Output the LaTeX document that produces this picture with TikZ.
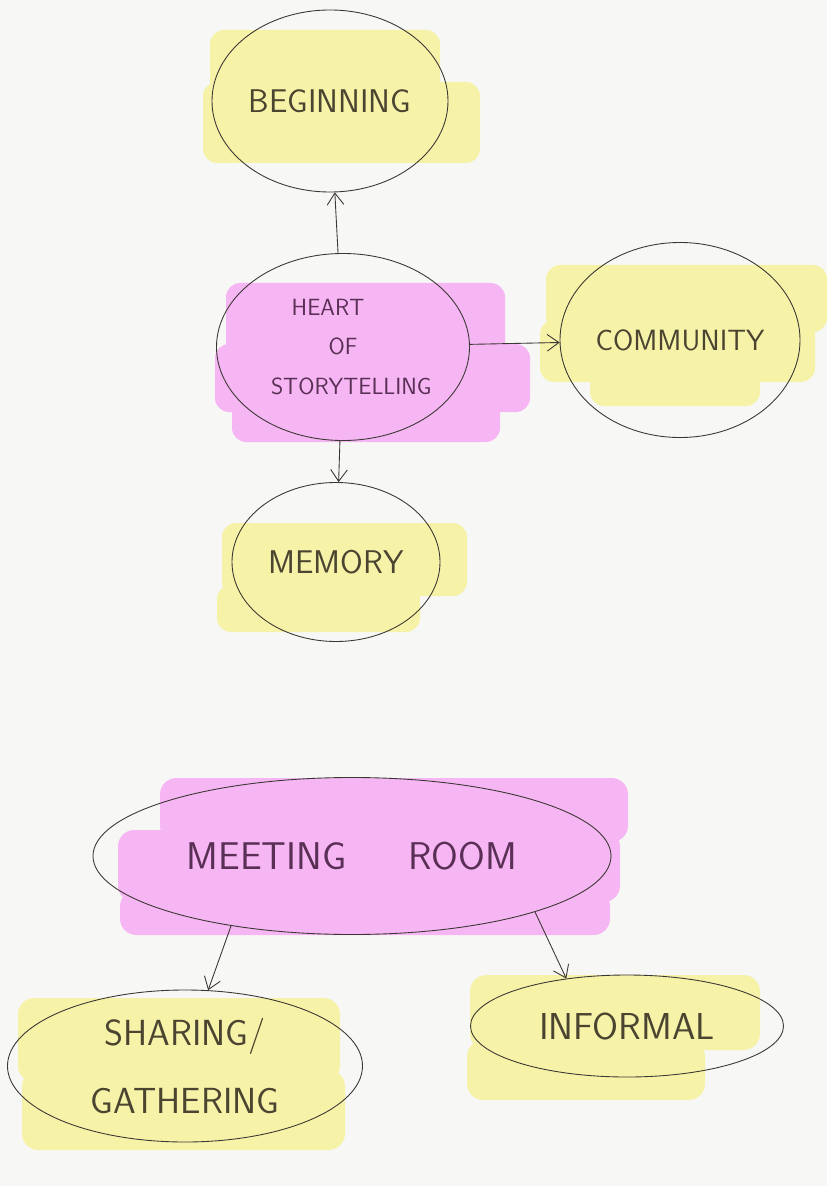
\documentclass[tikz,border=0pt]{standalone}
\usepackage{tikz}
\usetikzlibrary{arrows.meta,shapes.geometric}
\definecolor{paper}{HTML}{F7F7F5}
\definecolor{hlyellow}{HTML}{F6F3A9}
\definecolor{hlpink}{HTML}{F6B6F3}
\definecolor{ink}{HTML}{3B3732}
\definecolor{inkolive}{HTML}{4A4430}
\definecolor{inkplum}{HTML}{5A2F55}
\tikzset{every picture/.style={line width=0.75pt}}
\tikzset{
  bubble/.style={ellipse, draw=ink, inner sep=0pt, align=center},
  word/.style={font=\sffamily\fontsize{26}{30}\selectfont, text=inkolive},
}

\begin{document}
\begin{tikzpicture}[x=0.03cm, y=-0.03cm, >={Straight Barb[length=3.5mm,width=5mm]}]
    % 背景
    \fill[paper] (0,0) rectangle (827,1186);

    % 荧光笔涂色
    \fill[hlyellow, rounded corners=12pt] (210,30) rectangle (440,96);
    \fill[hlyellow, rounded corners=12pt] (203,82) rectangle (480,163);
    \fill[hlpink, rounded corners=12pt] (226,283) rectangle (505,356);
    \fill[hlpink, rounded corners=12pt] (215,344) rectangle (530,412);
    \fill[hlpink, rounded corners=12pt] (232,398) rectangle (500,442);
    \fill[hlyellow, rounded corners=12pt] (546,265) rectangle (827,332);
    \fill[hlyellow, rounded corners=12pt] (540,320) rectangle (815,382);
    \fill[hlyellow, rounded corners=12pt] (590,370) rectangle (760,406);
    \fill[hlyellow, rounded corners=12pt] (222,523) rectangle (467,596);
    \fill[hlyellow, rounded corners=12pt] (217,585) rectangle (420,632);
    \fill[hlpink, rounded corners=14pt] (160,778) rectangle (628,842);
    \fill[hlpink, rounded corners=14pt] (118,830) rectangle (620,902);
    \fill[hlpink, rounded corners=14pt] (120,890) rectangle (610,935);
    \fill[hlyellow, rounded corners=14pt] (18,998) rectangle (340,1082);
    \fill[hlyellow, rounded corners=14pt] (22,1070) rectangle (345,1150);
    \fill[hlyellow, rounded corners=14pt] (470,975) rectangle (760,1050);
    \fill[hlyellow, rounded corners=14pt] (467,1040) rectangle (705,1100);

    % 上方的图
    \node[bubble, minimum width=7.08cm, minimum height=5.46cm, word,
          font=\sffamily\fontsize{28}{30}\selectfont] (beginning) at (330,101) {BEGINNING};
    \node[bubble, minimum width=7.59cm, minimum height=5.61cm, word, text=inkplum,
          font=\sffamily\fontsize{20}{34}\selectfont] (heart) at (343,347)
          {HEART\hspace*{0.9cm}\\OF\\\hspace*{0.5cm}STORYTELLING};
    \node[bubble, minimum width=7.2cm, minimum height=5.85cm, word,
          font=\sffamily\fontsize{25}{30}\selectfont] (community) at (680,340) {COMMUNITY};
    \node[bubble, minimum width=6.24cm, minimum height=4.77cm, word,
          font=\sffamily\fontsize{28}{30}\selectfont] (memory) at (336,562) {MEMORY};

    \draw[->, ink] (heart) -- (beginning);
    \draw[->, ink] (heart) -- (community);
    \draw[->, ink] (heart) -- (memory);

    % 下方的图
    \node[bubble, minimum width=15.54cm, minimum height=4.71cm, word, text=inkplum,
          font=\sffamily\fontsize{33}{36}\selectfont] (meeting) at (352,856) {MEETING\hspace{1.6em}ROOM};
    \node[bubble, minimum width=10.65cm, minimum height=4.56cm, word,
          font=\sffamily\fontsize{31}{58}\selectfont] (sharing) at (185,1066) {SHARING/\\GATHERING};
    \node[bubble, minimum width=9.39cm, minimum height=3.06cm, word,
          font=\sffamily\fontsize{32}{36}\selectfont] (informal) at (627,1026) {INFORMAL};

    \draw[->, ink] (meeting.210) -- (sharing.73);
    \draw[->, ink] (meeting.343) -- (informal.142);
\end{tikzpicture}
\end{document}
